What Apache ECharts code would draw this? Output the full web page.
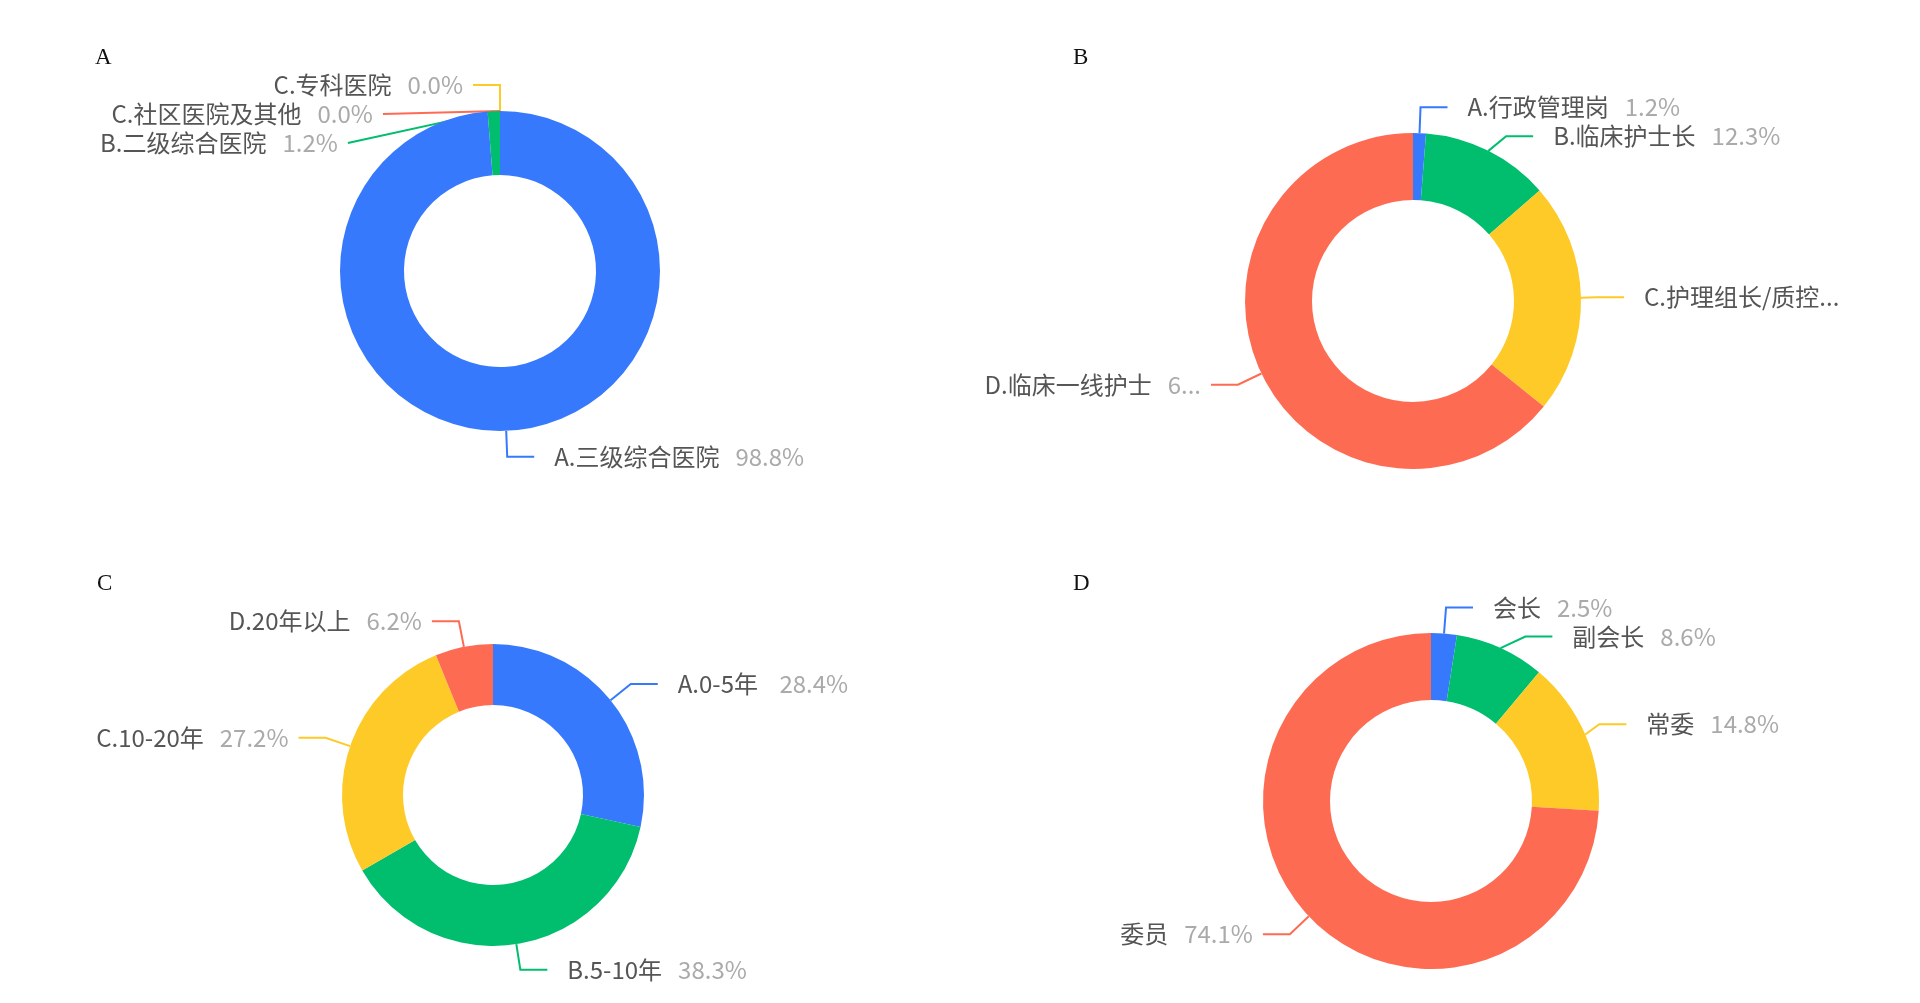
<!DOCTYPE html>
<html>
<head>
<meta charset="utf-8">
<script src="https://cdn.jsdelivr.net/npm/echarts@6/dist/echarts.min.js"></script>
<style>
html,body{margin:0;padding:0;background:#fff;}
#main{width:1920px;height:1003px;}
</style>
</head>
<body>
<div id="main"></div>
<script>
// ---- data ----
const panelTitles = ['A', 'B', 'C', 'D'];

const catA = ['A.三级综合医院', 'B.二级综合医院', 'C.专科医院', 'C.社区医院及其他'];
const valA = [80, 1, 0, 0];

const catB = ['A.行政管理岗', 'B.临床护士长', 'C.护理组长/质控护士', 'D.临床一线护士'];
const valB = [1, 10, 18, 52];

const catC = ['A.0-5年 ', 'B.5-10年', 'C.10-20年', 'D.20年以上'];
const valC = [23, 31, 22, 5];

const catD = ['会长', '副会长', '常委', '委员'];
const valD = [2, 7, 12, 60];

const palette = ['#3779fd', '#00be6e', '#fdca28', '#fe6b53'];

// ---- layout (panel boxes: left edge, right edge, ring centre, radii) ----
const panels = [
  {cats: catA, vals: valA, cx: 500, cy: 271, r0: 96, r: 160, boxL: 20, boxR: 980},
  {cats: catB, vals: valB, cx: 1413, cy: 301, r0: 101, r: 168, boxL: 963, boxR: 1866},
  {cats: catC, vals: valC, cx: 493, cy: 795, r0: 90, r: 151, boxL: 13, boxR: 973},
  {cats: catD, vals: valD, cx: 1431, cy: 801, r0: 101, r: 168, boxL: 971, boxR: 1891}
];
const titlePos = [[95, 46], [1073, 46], [97, 572], [1073, 572]];

const chart = echarts.init(document.getElementById('main'), null, {renderer: 'canvas'});

const FS = 24;
const LH = 27;
const series = panels.map(p => {
  const total = p.vals.reduce((a, b) => a + b, 0);
  const w = p.boxR - p.boxL;
  return {
    type: 'pie',
    left: p.boxL,
    width: w,
    top: p.cy - 250,
    height: 500,
    center: [((p.cx - p.boxL) / w * 100) + '%', '50%'],
    radius: [p.r0, p.r],
    startAngle: 90,
    clockwise: true,
    avoidLabelOverlap: true,
    color: palette,
    itemStyle: {borderWidth: 0},
    label: {
      show: true,
      position: 'outside',
      formatter: function (params) {
        const pct = (params.value / total * 100).toFixed(1);
        return '{n|' + params.name + '}{p|' + pct + '%}';
      },
      overflow: 'truncate',
      distanceToLabelLine: 10,
      fontFamily: 'Noto Sans CJK SC',
      fontSize: FS,
      lineHeight: LH,
      rich: {
        n: {fontSize: FS, lineHeight: LH, color: '#555555', fontFamily: 'Noto Sans CJK SC', padding: [0, 0, 0, 10]},
        p: {fontSize: FS, lineHeight: LH, color: '#aaaaaa', fontFamily: 'Noto Sans CJK SC', padding: [0, 0, 0, 16]}
      }
    },
    labelLine: {
      show: true,
      length: 26,
      length2: 27,
      lineStyle: {width: 2}
    },
    emphasis: {disabled: true},
    data: p.cats.map((c, i) => ({name: c, value: p.vals[i]}))
  };
});

chart.setOption({
  backgroundColor: '#ffffff',
  animation: false,
  title: panelTitles.map((t, i) => ({
    text: t,
    left: titlePos[i][0],
    top: titlePos[i][1],
    padding: 0,
    textStyle: {fontFamily: 'Liberation Serif', fontWeight: 'normal', fontSize: 23, color: '#111'}
  })),
  series: series
});
</script>
</body>
</html>
